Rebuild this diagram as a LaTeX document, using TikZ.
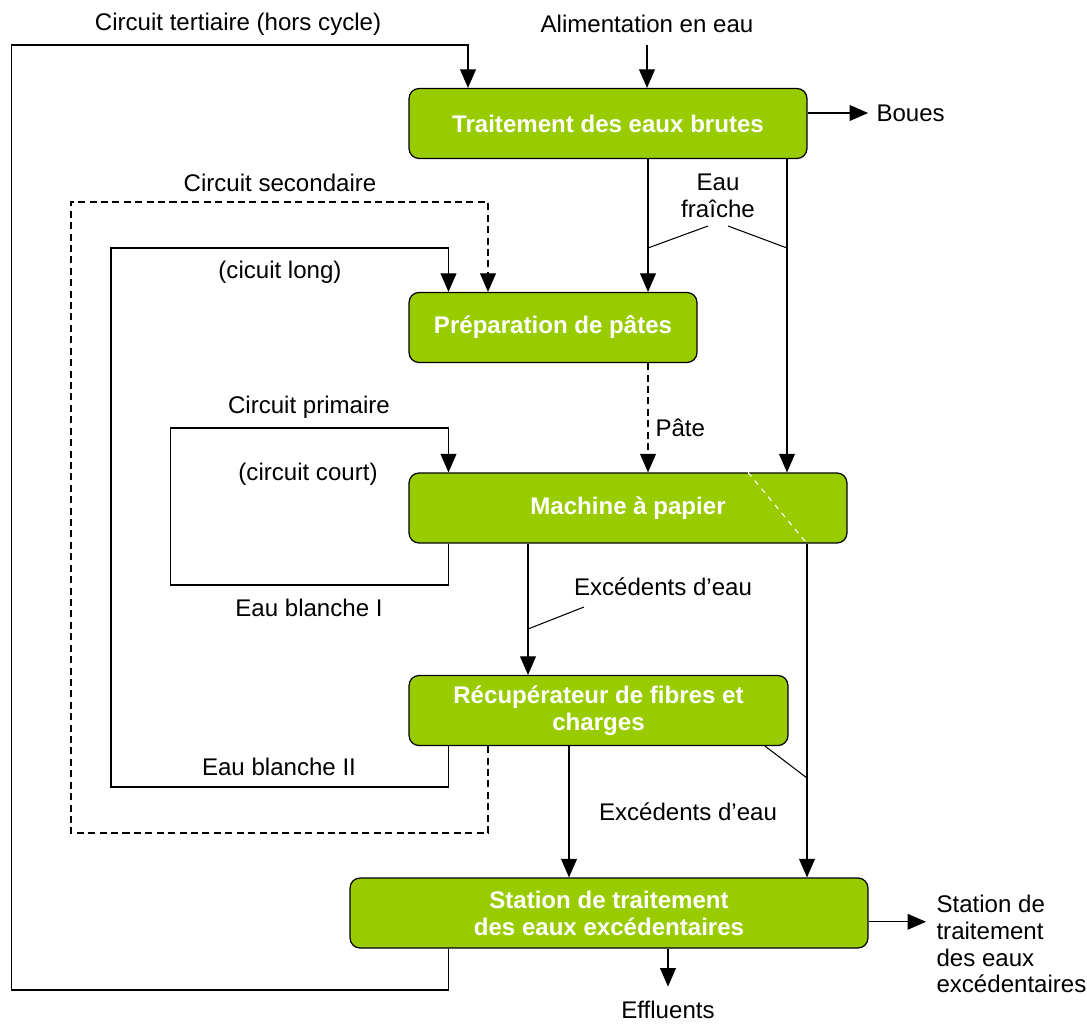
\documentclass[tikz,border=0pt]{standalone}
\usepackage{fontspec}
\setmainfont{Liberation Sans}
\usetikzlibrary{arrows.meta, positioning}
\definecolor{papergreen}{RGB}{153,204,0}

\begin{document}
\begin{tikzpicture}[x=0.02cm, y=-0.02cm, line width=0.6pt,
    every node/.style={font=\fontsize{13.7}{15.3}\selectfont, inner sep=0pt},
    stage/.style={draw=black, line width=0.7pt, fill=papergreen, rounded corners=0.2cm,
      minimum height=1.4cm, text=white, align=center,
      font=\fontsize{13.7}{15.3}\selectfont\bfseries},
    flow/.style={-{Triangle[length=10.5pt,width=9pt]}},
    dashloop/.style={dash pattern=on 4pt off 2.5pt}]
  \useasboundingbox (0,0) rectangle (1087,1023);
  % process stages
  \node[stage, minimum width=7.96cm] (brutes) at (608,123.5) {Traitement des eaux brutes};
  \node[stage, minimum width=5.76cm] (pates) at (553,327.5) {Préparation de pâtes};
  \node[stage, minimum width=8.76cm] (machine) at (628,508) {Machine à papier};
  \node[stage, minimum width=7.58cm] (recup) at (598.5,710.5) {Récupérateur de fibres et\\charges};
  \node[stage, minimum width=10.36cm] (station) at (609,913) {Station de traitement\\des eaux excédentaires};
  % labels
  \node (alim) at (647,24) {Alimentation en eau};
  \node (tertlbl) at (238,24) {Circuit tertiaire (hors cycle)};
  \node[anchor=west] (boues) at (876,113) {Boues};
  \node[align=center] (fraiche) at (718,196) {Eau\\fraîche};
  \node (seclbl) at (280,183) {Circuit secondaire};
  \node (longlbl) at (280,272) {(cicuit long)};
  \node[anchor=west] (pate) at (655,428) {Pâte};
  \node (primlbl) at (309,407) {Circuit primaire};
  \node (courtlbl) at (308,474) {(circuit court)};
  \node (blanc1) at (309,608) {Eau blanche I};
  \node (exces1) at (663,587) {Excédents d’eau};
  \node (blanc2) at (279,767) {Eau blanche II};
  \node (exces2) at (688,812) {Excédents d’eau};
  \node[anchor=west, align=left] (stepout) at (936,944) {Station de\\traitement\\des eaux\\excédentaires};
  \node (effl) at (668,1010) {Effluents};
  % supply and sludge
  \draw[flow] ([yshift=-6.5pt]alim.south) -- (alim |- brutes.north);
  \draw[flow, shorten >=4.5pt] (brutes.east |- boues) -- (boues.west);
  % tertiary circuit
  \draw[flow] (448.5,0 |- station.south) -- (448.5,990) -- (11.5,990) -- (11.5,45)
    -- (468,45) -- (468,0 |- brutes.north);
  % secondary circuit (dashed) and long circuit
  \draw[flow, dashloop] (488,0 |- recup.south) -- (488,833) -- (71,833) -- (71,202)
    -- (488,202) -- (488,0 |- pates.north);
  \draw[flow] (448.5,0 |- recup.south) -- (448.5,787) -- (111,787) -- (111,248)
    -- (448.5,248) -- (448.5,0 |- pates.north);
  % primary circuit
  \draw[flow] (448.5,0 |- machine.south) -- (448.5,585) -- (170.5,585) -- (170.5,428)
    -- (448.5,428) -- (448.5,0 |- machine.north);
  % fresh water
  \draw[flow] (648,0 |- brutes.south) -- (648,0 |- pates.north);
  \draw[flow] (787,0 |- brutes.south) -- (787,0 |- machine.north);
  \draw (708,226) -- (648,248);
  \draw (728,226) -- (787,248);
  % pulp
  \draw[flow, dashloop] (648,0 |- pates.south) -- (648,0 |- machine.north);
  % excess water
  \draw[flow] (528,0 |- machine.south) -- (528,0 |- recup.north);
  \draw (584,607) -- (528,629);
  \draw[white, dashed] (748,0 |- machine.north) -- (807,0 |- machine.south);
  \draw[flow] (807,0 |- machine.south) -- (807,0 |- station.north);
  \draw (765,0 |- recup.south) -- (807,778);
  \draw[flow] (569,0 |- recup.south) -- (569,0 |- station.north);
  % outlets
  \draw[flow, shorten >=5.7pt] ([yshift=-5pt]station.east) -- ([yshift=-5pt]station.east -| stepout.west);
  \draw[flow, shorten >=8pt] (effl |- station.south) -- (effl.north);
\end{tikzpicture}
\end{document}
